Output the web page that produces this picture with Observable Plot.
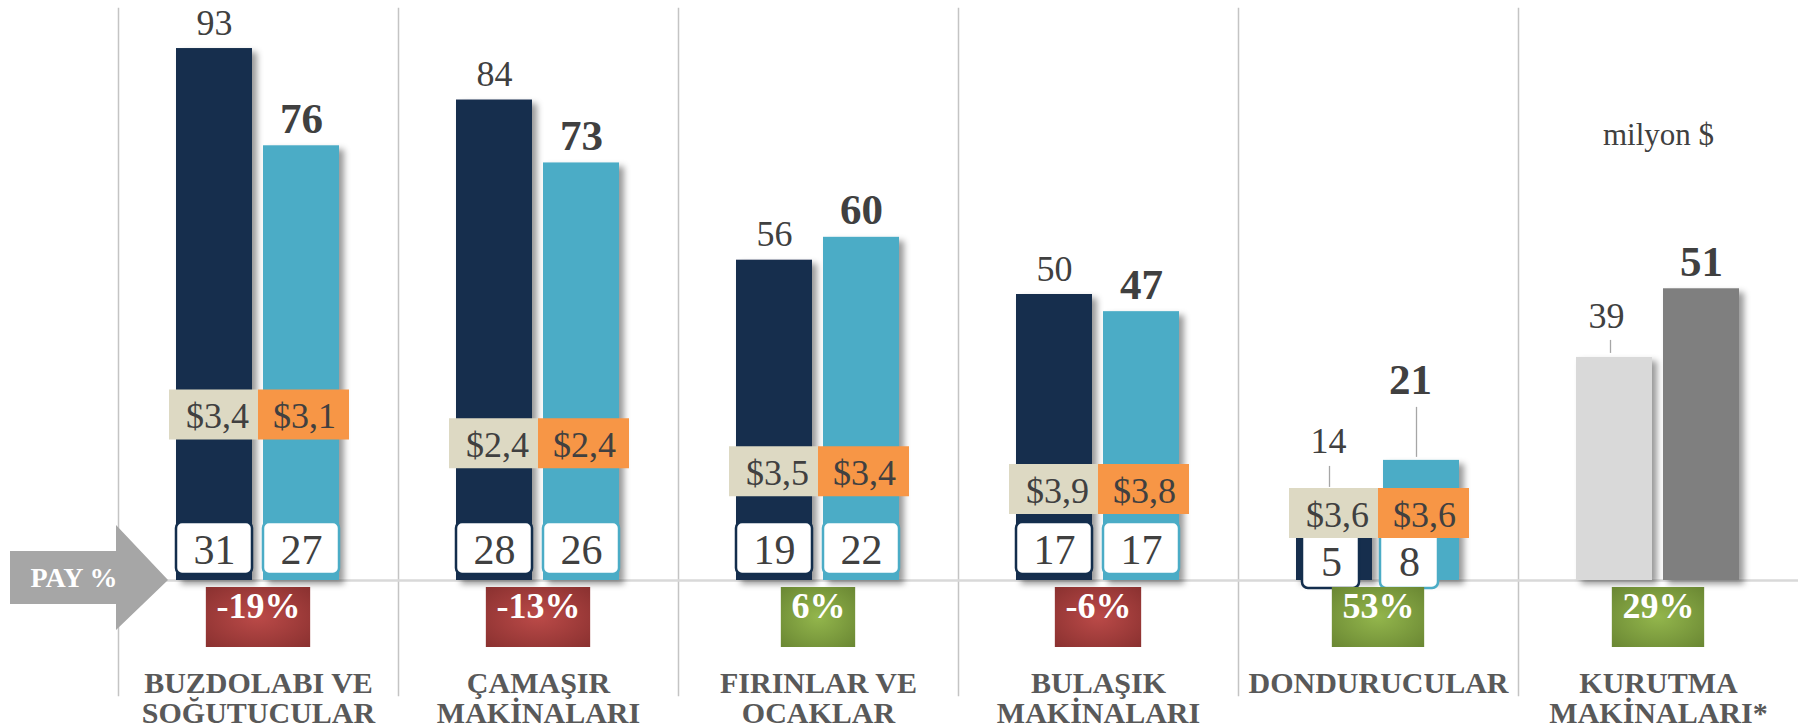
<!DOCTYPE html>
<html>
<head>
<meta charset="utf-8">
<script src="https://cdn.jsdelivr.net/npm/d3@7"></script>
<script src="https://cdn.jsdelivr.net/npm/@observablehq/plot@0.6"></script>
<style>
  html, body { margin: 0; padding: 0; background: #ffffff; }
  #chart { width: 1800px; height: 728px; overflow: hidden; }
</style>
</head>
<body>
<div id="chart"></div>
<script>
// ---------------- data ----------------
const categories = [
  "BUZDOLABI VE\nSOĞUTUCULAR",
  "ÇAMAŞIR\nMAKİNALARI",
  "FIRINLAR VE\nOCAKLAR",
  "BULAŞIK\nMAKİNALARI",
  "DONDURUCULAR",
  "KURUTMA\nMAKİNALARI*"
];
const periods = ["önceki", "sonraki"];
const salesPrev = [93, 84, 56, 50, 14, 39];      // milyon $
const salesCurr = [76, 73, 60, 47, 21, 51];      // milyon $
const sharePrev = [31, 28, 19, 17, 5, null];     // PAY %
const shareCurr = [27, 26, 22, 17, 8, null];     // PAY %
const pricePrev = [3.4, 2.4, 3.5, 3.9, 3.6, null];
const priceCurr = [3.1, 2.4, 3.4, 3.8, 3.6, null];
const changePct = [-19, -13, 6, -6, 53, 29];
const unitLabel = "milyon $";
const shareLabel = "PAY %";

// ---------------- layout (not data) ----------------
const W = 1800, H = 728;
const M = {top: 0, right: 0, bottom: 148, left: 116};
const pxPerUnit = 5.72;
const yMax = (H - M.top - M.bottom) / pxPerUnit;
const priceLevel = [29, 24, 19.1, 16, 11.8];     // vertical anchor of the price tags (in y units)
const FONT = "'Liberation Serif', 'Times New Roman', serif";
const band = (W - M.left - M.right) / categories.length;

const colors = {
  main: {"önceki": "#132e4d", "sonraki": "#4bacc6"},
  grey: {"önceki": "#d9d9d9", "sonraki": "#7f7f7f"},
  tag:  {"önceki": "#ddd9c3", "sonraki": "#f79646"}
};
const TEXT = "#404040";

const rows = categories.flatMap((cat, i) => periods.map((period, j) => ({
  cat, period, i,
  sales: [salesPrev, salesCurr][j][i],
  share: [sharePrev, shareCurr][j][i],
  price: [pricePrev, priceCurr][j][i],
  level: priceLevel[i]
})));
const barColor = d => (d.share == null ? colors.grey : colors.main)[d.period];
const fmtPrice = d => "$" + d.price.toFixed(1).replace(".", ",");
const fmtPct = v => (v < 0 ? "-" : "") + Math.abs(v) + "%";

// labels moved away from crowded bars (with leader lines)
const nudges = [
  {i: 4, period: "önceki",  dx: -6,  dy: -47, lx: -5, leadTop: -34, leadBottom: 13},
  {i: 4, period: "sonraki", dx: -11, dy: -66, lx: -5, leadTop: -53, leadBottom: 3},
  {i: 5, period: "önceki",  dx: -8,  dy: -29, lx: -4, leadTop: -17, leadBottom: 4}
];
const isNudged = d => nudges.some(n => n.i === d.i && n.period === d.period);

const ctx = document.createElement("canvas").getContext("2d");
function textWidth(s, font) { ctx.font = font; return ctx.measureText(s).width; }

const shareRows = rows.filter(d => d.share != null);
const compact = d => d.sales < 30;   // short bars: smaller share boxes
const tagRows = rows.filter(d => d.price != null);

const marks = [
  // group separators
  Plot.frame({anchor: "left", stroke: "#c4c4c4", strokeWidth: 1.5, insetTop: 8, insetBottom: -115}),
  // baseline
  Plot.ruleY([0], {stroke: "#d9d9d9", strokeWidth: 2.5}),
  // bars
  Plot.barY(rows, {fx: "cat", x: "period", y: "sales", fill: barColor, ariaLabel: () => "mainbar"}),
  // share boxes (normal)
  ...periods.map(p => Plot.barY(shareRows.filter(d => !compact(d) && d.period === p), {
    fx: "cat", x: "period", y1: 0, y2: 0, insetTop: -58, insetBottom: 6,
    fill: "white", stroke: colors.main[p], strokeWidth: 2.5, rx: 6
  })),
  // share boxes (compact)
  Plot.barY(shareRows.filter(d => compact(d) && d.period === "önceki"), {
    fx: "cat", x: "period", y1: 0, y2: 0, insetTop: -52, insetBottom: -8, insetLeft: 6, insetRight: 13,
    fill: "white", stroke: colors.main["önceki"], strokeWidth: 2.5, rx: 6
  }),
  Plot.barY(shareRows.filter(d => compact(d) && d.period === "sonraki"), {
    fx: "cat", x: "period", y1: 0, y2: 0, insetTop: -52, insetBottom: -8, insetLeft: -3, insetRight: 21,
    fill: "white", stroke: colors.main["sonraki"], strokeWidth: 2.5, rx: 6
  }),
  Plot.text(shareRows.filter(d => !compact(d)), {
    fx: "cat", x: "period", y: 0, text: "share", dy: -30, fontSize: 42, fill: TEXT
  }),
  Plot.text(shareRows.filter(d => compact(d) && d.period === "önceki"), {
    fx: "cat", x: "period", y: 0, text: "share", dy: -18, dx: -3, fontSize: 42, fill: TEXT
  }),
  Plot.text(shareRows.filter(d => compact(d) && d.period === "sonraki"), {
    fx: "cat", x: "period", y: 0, text: "share", dy: -18, dx: -12, fontSize: 42, fill: TEXT
  }),
  // price tags
  Plot.tickY(tagRows.filter(d => d.period === "önceki"), {
    fx: "cat", x: "period", y: "level", stroke: colors.tag["önceki"], strokeWidth: 50, insetLeft: -7, insetRight: -6
  }),
  Plot.tickY(tagRows.filter(d => d.period === "sonraki"), {
    fx: "cat", x: "period", y: "level", stroke: colors.tag["sonraki"], strokeWidth: 50, insetLeft: -5, insetRight: -10
  }),
  Plot.text(tagRows, {fx: "cat", x: "period", y: "level", text: fmtPrice, dx: 3, dy: 2, fontSize: 36, fill: TEXT}),
  // value labels
  Plot.text(rows.filter(d => d.period === "önceki" && !isNudged(d)), {
    fx: "cat", x: "period", y: "sales", text: "sales", dy: -14, lineAnchor: "bottom", fontSize: 36, fill: TEXT
  }),
  Plot.text(rows.filter(d => d.period === "sonraki" && !isNudged(d)), {
    fx: "cat", x: "period", y: "sales", text: "sales", dy: -13, lineAnchor: "bottom", fontSize: 43, fontWeight: "bold", fill: TEXT
  }),
  ...nudges.flatMap(n => {
    const data = rows.filter(d => d.i === n.i && d.period === n.period);
    const bold = n.period === "sonraki";
    return [
      Plot.ruleX(data, {fx: "cat", x: "period", y1: "sales", y2: "sales", dx: n.lx,
        insetTop: n.leadTop, insetBottom: n.leadBottom, stroke: "#a6a6a6", strokeWidth: 1.3}),
      Plot.text(data, {fx: "cat", x: "period", y: "sales", text: "sales", dx: n.dx, dy: n.dy,
        lineAnchor: "bottom", fontSize: bold ? 43 : 36, fontWeight: bold ? "bold" : "normal", fill: TEXT})
    ];
  }),
  // change boxes
  ...categories.map((cat, i) => {
    const w = textWidth(fmtPct(changePct[i]), `bold 36px ${FONT}`) + 21;
    const inset = (band - w) / 2;
    return Plot.barY([{cat}], {
      fx: "cat", y1: 0, y2: 0, insetTop: 7, insetBottom: -67, insetLeft: inset, insetRight: inset,
      fill: changePct[i] < 0 ? "url(#gradNeg)" : "url(#gradPos)"
    });
  }),
  Plot.text(categories.map((cat, i) => ({cat, v: changePct[i]})), {
    fx: "cat", text: d => fmtPct(d.v), frameAnchor: "bottom", dy: 37, fontSize: 36, fontWeight: "bold", fill: "white"
  }),
  // category labels
  Plot.text(categories, {
    fx: d => d, text: d => d, frameAnchor: "bottom", lineAnchor: "top", dy: 91,
    fontSize: 30, fontWeight: "bold", fill: "#595959", lineHeight: 1.0
  }),
  // unit label
  Plot.text([categories[5]], {
    fx: d => d, text: () => unitLabel, frameAnchor: "top", lineAnchor: "bottom", dy: 144, fontSize: 31, fill: TEXT
  })
];

const chart = Plot.plot({
  width: W, height: H,
  marginTop: M.top, marginRight: M.right, marginBottom: M.bottom, marginLeft: M.left,
  style: {fontFamily: FONT, fontSize: "20px", background: "white", color: TEXT},
  fx: {domain: categories, padding: 0, axis: null},
  x: {domain: periods, paddingInner: 0.125, paddingOuter: 0.657, axis: null},
  y: {domain: [0, yMax], axis: null},
  color: {type: "identity"},
  marks
});

// decorations: gradients, shadows, PAY % arrow
const svg = d3.select(chart.tagName.toLowerCase() === "svg" ? chart : chart.querySelector("svg"));
const defs = svg.insert("defs", ":first-child");
const radial = (id, c0, c1) => {
  const g = defs.append("radialGradient").attr("id", id).attr("cx", "50%").attr("cy", "50%").attr("r", "70%");
  g.append("stop").attr("offset", "0%").attr("stop-color", c0);
  g.append("stop").attr("offset", "100%").attr("stop-color", c1);
};
radial("gradNeg", "#bb4a48", "#8a3130");
radial("gradPos", "#93b64c", "#6a8733");
const f = defs.append("filter").attr("id", "barShadow").attr("x", "-20%").attr("y", "-10%").attr("width", "160%").attr("height", "130%");
f.append("feDropShadow").attr("dx", 5).attr("dy", 4).attr("stdDeviation", 3)
  .attr("flood-color", "#000").attr("flood-opacity", 0.4);
svg.selectAll('rect[aria-label="mainbar"]').attr("filter", "url(#barShadow)");

const y0 = chart.scale("y").apply(0);
const left = chart.scale("fx").range[0];
svg.append("path")
  .attr("d", `M10,${y0 - 29}H${left}V${y0 - 55}L${left + 52},${y0}L${left},${y0 + 50}V${y0 + 24}H10Z`)
  .attr("fill", "#a6a6a6");
svg.append("text")
  .attr("x", (10 + left + 22) / 2).attr("y", y0 - 3).attr("dy", "0.35em")
  .attr("text-anchor", "middle").attr("fill", "white").attr("font-weight", "bold")
  .attr("font-size", 28).text(shareLabel);

document.getElementById("chart").append(chart);
</script>
</body>
</html>
